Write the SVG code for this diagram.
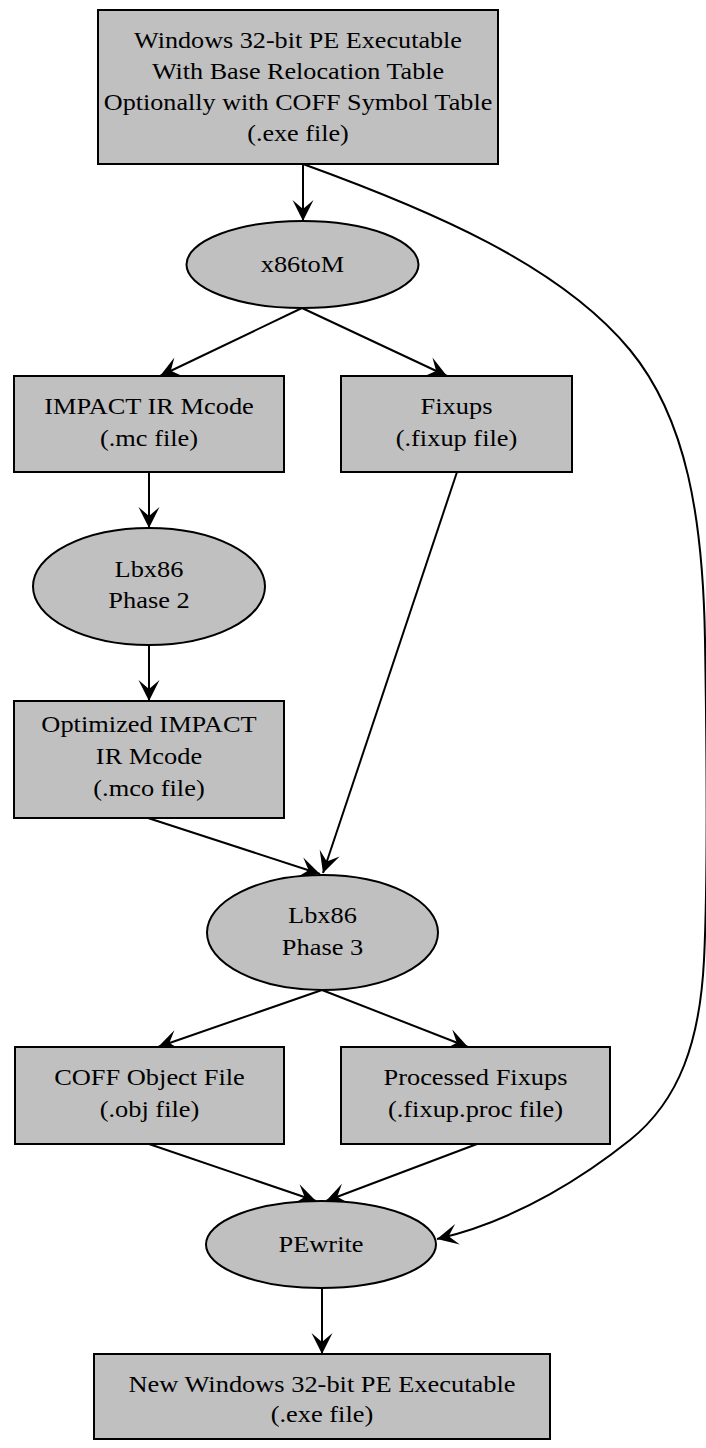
<svg xmlns="http://www.w3.org/2000/svg" width="706" height="1448" viewBox="0 0 706 1448">
<style>
.box{fill:#c0c0c0;stroke:#000;stroke-width:2}
.t{font-family:"Liberation Serif","Times New Roman",serif;font-size:24px;fill:#000;text-anchor:middle}
.e{fill:none;stroke:#000;stroke-width:2}
</style>
<defs>
<marker id="ah" markerUnits="userSpaceOnUse" markerWidth="24" markerHeight="24" viewBox="-22 -12 24 24" refX="0" refY="0" orient="auto">
<path d="M0,0 L-21,-10.5 L-12,0 L-21,10.5 Z" fill="#000"/>
</marker>
</defs>
<rect width="706" height="1448" fill="#fff"/>
<g id="connectors">
<path class="e" d="M303,164 L303,221" marker-end="url(#ah)"/>
<path class="e" d="M303,164 C430,210 560,265 630,350 C687,419 703,520 705,640 C707,760 708,880 704,960 C700,1040 680,1100 630,1140 C590,1172 520,1220 437,1239" marker-end="url(#ah)"/>
<path class="e" d="M302,308 L160,376" marker-end="url(#ah)"/>
<path class="e" d="M302,308 L447,376" marker-end="url(#ah)"/>
<path class="e" d="M149,472 L149,528" marker-end="url(#ah)"/>
<path class="e" d="M457,472 L323,873" marker-end="url(#ah)"/>
<path class="e" d="M149,645 L149,701" marker-end="url(#ah)"/>
<path class="e" d="M148,818 L320,874" marker-end="url(#ah)"/>
<path class="e" d="M322,990 L158,1047" marker-end="url(#ah)"/>
<path class="e" d="M322,990 L468,1047" marker-end="url(#ah)"/>
<path class="e" d="M149,1144 L316,1201" marker-end="url(#ah)"/>
<path class="e" d="M477,1144 L326,1201" marker-end="url(#ah)"/>
<path class="e" d="M322,1288 L322,1354" marker-end="url(#ah)"/>
</g>
<g id="n_input">
<rect class="box" x="98" y="10" width="400" height="154"/>
<text class="t" transform="translate(298 0) scale(1.09 1)" y="48">Windows 32-bit PE Executable</text>
<text class="t" transform="translate(298 0) scale(1.09 1)" y="79">With Base Relocation Table</text>
<text class="t" transform="translate(298 0) scale(1.09 1)" y="110">Optionally with COFF Symbol Table</text>
<text class="t" transform="translate(298 0) scale(1.09 1)" y="141">(.exe file)</text>
</g>
<g id="n_x86toM">
<ellipse class="box" cx="302.5" cy="264.5" rx="116" ry="43.5"/>
<text class="t" transform="translate(302.5 0) scale(1.1 1)" y="272">x86toM</text>
</g>
<g id="n_mcode">
<rect class="box" x="14" y="376" width="270" height="96"/>
<text class="t" transform="translate(149 0) scale(1.1 1)" y="414">IMPACT IR Mcode</text>
<text class="t" transform="translate(149 0) scale(1.1 1)" y="446">(.mc file)</text>
</g>
<g id="n_fixups">
<rect class="box" x="341" y="376" width="231" height="96"/>
<text class="t" transform="translate(456.5 0) scale(1.1 1)" y="414">Fixups</text>
<text class="t" transform="translate(456.5 0) scale(1.1 1)" y="446">(.fixup file)</text>
</g>
<g id="n_phase2">
<ellipse class="box" cx="149" cy="586.5" rx="116" ry="58.5"/>
<text class="t" transform="translate(149 0) scale(1.1 1)" y="577">Lbx86</text>
<text class="t" transform="translate(149 0) scale(1.1 1)" y="608">Phase 2</text>
</g>
<g id="n_mco">
<rect class="box" x="14" y="701" width="270" height="117"/>
<text class="t" transform="translate(149 0) scale(1.1 1)" y="732">Optimized IMPACT</text>
<text class="t" transform="translate(149 0) scale(1.1 1)" y="764">IR Mcode</text>
<text class="t" transform="translate(149 0) scale(1.1 1)" y="796">(.mco file)</text>
</g>
<g id="n_phase3">
<ellipse class="box" cx="322.5" cy="932.5" rx="115.5" ry="57.5"/>
<text class="t" transform="translate(322.5 0) scale(1.1 1)" y="923">Lbx86</text>
<text class="t" transform="translate(322.5 0) scale(1.1 1)" y="955">Phase 3</text>
</g>
<g id="n_obj">
<rect class="box" x="15" y="1047" width="269" height="97"/>
<text class="t" transform="translate(149.5 0) scale(1.1 1)" y="1085">COFF Object File</text>
<text class="t" transform="translate(149.5 0) scale(1.1 1)" y="1117">(.obj file)</text>
</g>
<g id="n_fixproc">
<rect class="box" x="341" y="1047" width="269" height="97"/>
<text class="t" transform="translate(475.5 0) scale(1.1 1)" y="1085">Processed Fixups</text>
<text class="t" transform="translate(475.5 0) scale(1.1 1)" y="1117">(.fixup.proc file)</text>
</g>
<g id="n_pewrite">
<ellipse class="box" cx="321" cy="1244.5" rx="115" ry="43.5"/>
<text class="t" transform="translate(321 0) scale(1.1 1)" y="1252">PEwrite</text>
</g>
<g id="n_output">
<rect class="box" x="94" y="1354" width="456" height="85"/>
<text class="t" transform="translate(322 0) scale(1.1 1)" y="1392">New Windows 32-bit PE Executable</text>
<text class="t" transform="translate(322 0) scale(1.1 1)" y="1422">(.exe file)</text>
</g>
</svg>
